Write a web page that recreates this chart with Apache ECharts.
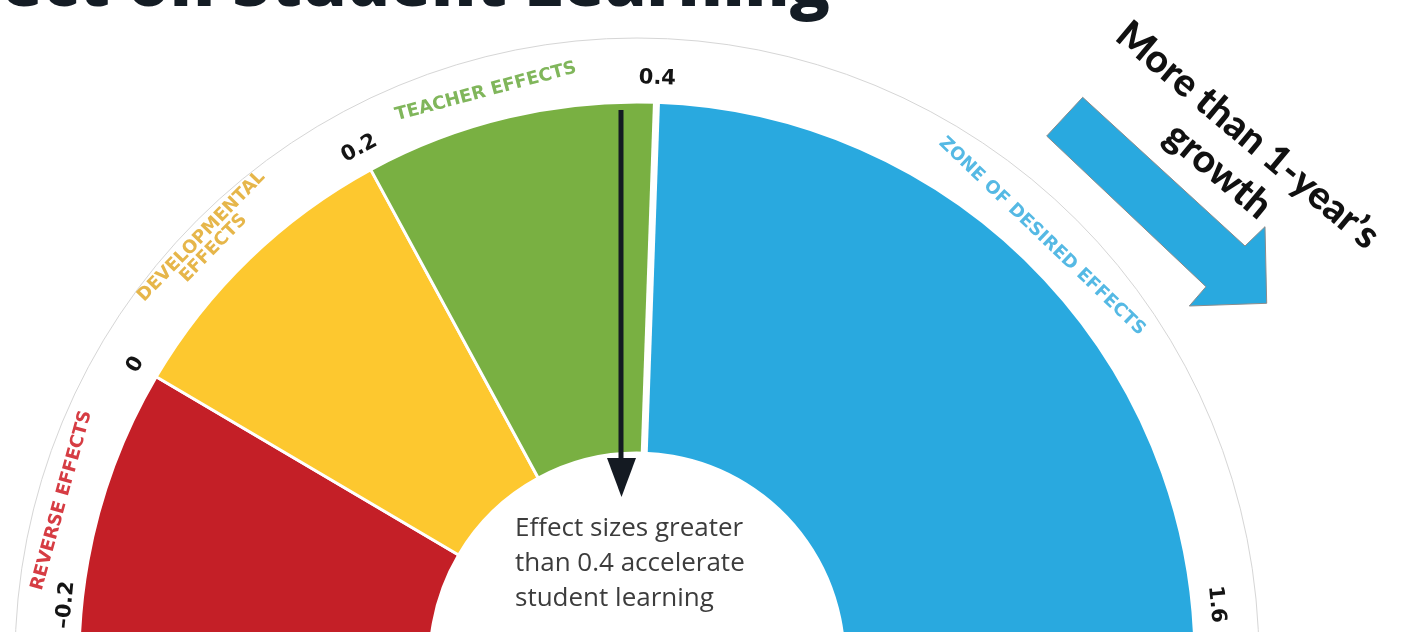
<!DOCTYPE html>
<html>
<head>
<meta charset="utf-8">
<script src="https://cdn.jsdelivr.net/npm/echarts@6/dist/echarts.min.js"></script>
<style>
  html, body { margin: 0; padding: 0; background: #ffffff; }
  #chart { width: 1402px; height: 632px; }
</style>
</head>
<body>
<div id="chart"></div>
<script>
// ---- data ----
const tickLabels = ['–0.2', '0', '0.2', '0.4', '1.6'];        // effect-size boundaries
const tickAngles = [174.5, 149.5, 118.5, 88, 5.5];             // where each boundary sits on the dial (degrees)
const bandNames = ['REVERSE EFFECTS', 'DEVELOPMENTAL\nEFFECTS', 'TEACHER EFFECTS', 'ZONE OF DESIRED EFFECTS'];
const bandLabelAngles = [164.5, 135.8, 104.9, 46.3];           // label positions
const noteLines = ['Effect sizes greater', 'than 0.4 accelerate', 'student learning'];
const growthLines = ['More than 1-year\u2019s', 'growth'];
const titleText = 'Effect on Student Learning';

// ---- styles / layout ----
const bandColors = ['#c41f27', '#fdc82f', '#79b042', '#29a9df'];
const bandTextColors = ['#d63c43', '#e6b64a', '#80b65b', '#55b9e4'];
const tickRadii = [574, 582, 582, 582, 582];
const bandLabelRadii = [597, 599, 588, 586];
const CX = 637, CY = 660, R_IN = 207, R_OUT = 558;
const OVERFLOW = 10; // bands run past the dial's horizontal edge; the canvas clips them flat

// pie spans built from the tick angles
const startA = 180 + OVERFLOW;
const endA = 0 - OVERFLOW;
const edges = [startA].concat(tickAngles.slice(1, 4)).concat([endA]);
const pieData = [];
for (let i = 0; i < bandNames.length; i++) {
  pieData.push({
    name: bandNames[i],
    value: edges[i] - edges[i + 1],
    itemStyle: { color: bandColors[i], borderColor: '#ffffff', borderWidth: 3 }
  });
}
pieData.push({ name: 'blank', value: 360 - (startA - endA),
  itemStyle: { color: 'rgba(0,0,0,0)', borderWidth: 0 } });

function pos(angDeg, r) {
  const a = angDeg * Math.PI / 180;
  return [CX + r * Math.cos(a), CY - r * Math.sin(a)];
}
function tangentialText(text, angDeg, r, style) {
  const p = pos(angDeg, r);
  return {
    type: 'text', x: p[0], y: p[1], z: 20,
    rotation: (angDeg - 90) * Math.PI / 180,
    style: Object.assign({ text: text, align: 'center', verticalAlign: 'middle' }, style)
  };
}

const graphics = [];
// faint outer ring
graphics.push({ type: 'circle', z: 1, shape: { cx: CX, cy: CY, r: 622 },
  style: { fill: null, stroke: '#d6d6d6', lineWidth: 1 } });
// white separator at 0.4
(function () {
  const a = pos(tickAngles[3], R_IN - 2), b = pos(tickAngles[3], R_OUT + 2);
  graphics.push({ type: 'line', z: 15, shape: { x1: a[0], y1: a[1], x2: b[0], y2: b[1] },
    style: { stroke: '#ffffff', lineWidth: 7 } });
})();
// tick labels
tickLabels.forEach(function (t, i) {
  graphics.push(tangentialText(t, tickAngles[i], tickRadii[i],
    { fontFamily: 'DejaVu Sans', fontWeight: 'bold', fontSize: 21, fill: '#141414' }));
});
// band labels
bandNames.forEach(function (t, i) {
  graphics.push(tangentialText(t, bandLabelAngles[i], bandLabelRadii[i],
    { fontFamily: 'DejaVu Sans', fontWeight: 'bold', fontSize: 18, lineHeight: 17, fill: bandTextColors[i] }));
});
// title (cut at top)
graphics.push({ type: 'text', x: 830, y: -13.5, z: 20,
  style: { text: titleText, fontFamily: 'Open Sans', fontWeight: 800, fontSize: 67,
    fill: '#141c24', align: 'right', verticalAlign: 'middle' } });
// black pointer arrow at 0.4
graphics.push({ type: 'line', z: 25, shape: { x1: 621, y1: 110, x2: 621, y2: 462 },
  style: { stroke: '#141a22', lineWidth: 5 } });
graphics.push({ type: 'polygon', z: 25, shape: { points: [[607, 458], [636, 458], [621.5, 497]] },
  style: { fill: '#141a22' } });
// inner note
graphics.push({ type: 'text', x: 515, y: 511, z: 20,
  style: { text: noteLines.join('\n'), fontFamily: 'Open Sans', fontSize: 26, lineHeight: 35,
    fill: '#3c3c3c', align: 'left', verticalAlign: 'top' } });
// blue block arrow
graphics.push({ type: 'polygon', z: 20,
  shape: { points: [[1046.7, 136], [1082.7, 97.3], [1245, 246], [1265, 226.7], [1266.7, 303.3], [1189.3, 306], [1206, 286.7]] },
  style: { fill: '#29a9df', stroke: '#8c8c8c', lineWidth: 1 } });
// growth text
graphics.push({ type: 'text', x: 1233, y: 153, z: 20, rotation: -40 * Math.PI / 180,
  style: { text: growthLines.join('\n'), fontFamily: 'Lato', fontWeight: 900, fontSize: 39, lineHeight: 46,
    fill: '#111111', align: 'center', verticalAlign: 'middle' } });

const chart = echarts.init(document.getElementById('chart'), null, { renderer: 'canvas' });
chart.setOption({
  animation: false,
  backgroundColor: '#ffffff',
  series: [{
    type: 'pie',
    silent: true,
    center: [CX, CY],
    radius: [R_IN, R_OUT],
    startAngle: startA,
    clockwise: true,
    label: { show: false },
    labelLine: { show: false },
    emphasis: { disabled: true },
    data: pieData,
    z: 2
  }],
  graphic: graphics
});
</script>
</body>
</html>
